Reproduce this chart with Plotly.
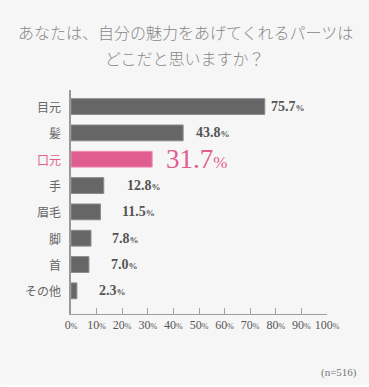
import plotly.graph_objects as go

categories = ["目元", "髪", "口元", "手", "眉毛", "脚", "首", "その他"]
values = [75.7, 43.8, 31.7, 12.8, 11.5, 7.8, 7.0, 2.3]
highlight = "口元"
tick_values = [0, 10, 20, 30, 40, 50, 60, 70, 80, 90, 100]
title_lines = ["あなたは、自分の魅力をあげてくれるパーツは", "どこだと思いますか？"]
note = "(n=516)"

# style
W, H = 369, 387
ML, MR, MT, MB = 71, 42, 90, 73
GREY = "#666666"
PINK = "#e05e8f"
label_shift = [4, 11, 12, 21, 20, 19, 20, 20]
CJK = "Noto Sans CJK JP"
SERIF = "Liberation Serif"

colors = [PINK if c == highlight else GREY for c in categories]
edge = ["#f08db2" if c == highlight else "#8a8a8a" for c in categories]
ypos = list(range(len(categories)))

fig = go.Figure()
fig.add_trace(go.Bar(
    x=values, y=ypos, orientation="h",
    marker=dict(color=colors, line=dict(color=edge, width=1)),
    width=0.6, hoverinfo="skip", cliponaxis=False,
))

for i, (c, v) in enumerate(zip(categories, values)):
    if c == highlight:
        txt = f"{v:.1f}<span style='font-size:17px'>%</span>"
        fnt = dict(family=SERIF, size=27, color=PINK)
    else:
        txt = f"<b>{v:.1f}</b><span style='font-size:9px'><b>%</b></span>"
        fnt = dict(family=SERIF, size=14, color="#555555")
    fig.add_annotation(x=v, y=i, text=txt, showarrow=False, xanchor="left",
                       yanchor="middle", xshift=label_shift[i], font=fnt)
    # category labels
    fig.add_annotation(x=0, y=i, text=c, showarrow=False, xanchor="right",
                       yanchor="middle", xshift=-8,
                       font=dict(family=CJK, size=12,
                                 color=PINK if c == highlight else "#666666"))

tick_text = [f"{t}<span style='font-size:8px'>%</span>" for t in tick_values]

fig.update_xaxes(range=[0, 100], tickvals=tick_values, ticktext=tick_text,
                 showgrid=False, zeroline=False, showline=True,
                 linecolor="#a0a0a0", linewidth=1, ticks="inside", ticklen=6,
                 tickcolor="#a0a0a0", tickwidth=1,
                 tickfont=dict(family=SERIF, size=12, color="#555555"),
                 fixedrange=True)
fig.update_yaxes(range=[7.88, -0.63], showticklabels=False, showgrid=False,
                 zeroline=False, showline=True, linecolor="#999999",
                 linewidth=2, ticks="", fixedrange=True)

# card background with rounded bottom corners
def px(xp):
    return (xp - ML) / (W - ML - MR)

def py(yp):
    return (H - MB - yp) / (H - MT - MB)

r = 4
path = (f"M {px(0)},{py(0)} L {px(W)},{py(0)} L {px(W)},{py(385 - r)} "
        f"Q {px(W)},{py(385)} {px(W - r)},{py(385)} L {px(r)},{py(385)} "
        f"Q {px(0)},{py(385)} {px(0)},{py(385 - r)} Z")
fig.add_shape(type="path", path=path, xref="paper", yref="paper",
              fillcolor="#f6f6f6", line=dict(width=0), layer="below")

for k, line in enumerate(title_lines):
    fig.add_annotation(x=px(185), y=py(32 + 26 * k), xref="paper", yref="paper",
                       text=line, showarrow=False, xanchor="center",
                       yanchor="middle",
                       font=dict(family=CJK, size=16, color="#888888",
                                 weight=300))

fig.add_annotation(x=px(359), y=py(372), xref="paper", yref="paper",
                   text=note, showarrow=False, xanchor="right", yanchor="middle",
                   font=dict(family=SERIF, size=11, color="#777777"))

fig.update_layout(width=W, height=H, margin=dict(l=ML, r=MR, t=MT, b=MB),
                  paper_bgcolor="#ffffff", plot_bgcolor="rgba(0,0,0,0)",
                  showlegend=False, bargap=0.4)

fig.write_html("out.html", config={"displayModeBar": False},
               post_script="document.body.style.margin='0';"
                           "document.body.style.overflow='hidden';")
